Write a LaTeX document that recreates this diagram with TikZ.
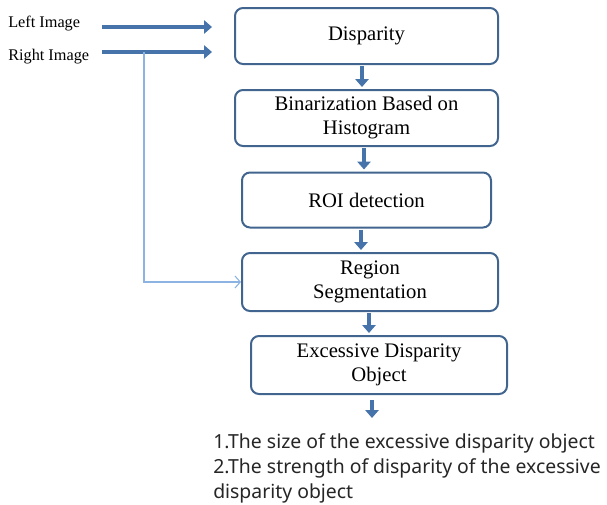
\documentclass[tikz,border=0pt]{standalone}
\usepackage{fontspec}
\setmainfont{Liberation Serif}
\newfontfamily\ksans{Noto Sans}
\usetikzlibrary{arrows.meta}
\definecolor{boxc}{HTML}{41658F}
\definecolor{arrc}{HTML}{4674AA}
\definecolor{thinc}{HTML}{8DB3E2}
\begin{document}
\begin{tikzpicture}[x=0.75pt,y=-0.75pt,
  box/.style={draw=boxc, line width=1.5pt, rounded corners=6pt, align=center,
    font=\fontsize{15.5}{18}\selectfont, inner sep=0pt},
  down/.style={draw=arrc, line width=3pt, -{Triangle[length=6pt,width=10pt]}},
  side/.style={draw=arrc, line width=3.2pt, -{Triangle[length=6pt,width=10pt]}},
  thinarrow/.style={draw=thinc, line width=0.8pt, -{Straight Barb[length=4pt,width=9pt]}},
  lbl/.style={anchor=west, font=\fontsize{12.2}{14}\selectfont, inner sep=0pt}]
\useasboundingbox (0,0) rectangle (607,504);

\node[lbl] (left) at (8,24) {Left Image};
\node[lbl] (right) at (8,57) {Right Image};

\node[box, minimum width=197.25pt, minimum height=42pt] (disp) at (366.5,36) {Disparity};
\node[box, minimum width=197.25pt, minimum height=42pt] (bin) at (366.5,118) {Binarization Based on\\Histogram};
\node[box, minimum width=186.75pt, minimum height=41.25pt] (roi) at (366.5,200) {ROI detection};
\node[box, minimum width=192pt, minimum height=43.5pt] (reg) at (370,282) {Region\\Segmentation};
\node[box, minimum width=192pt, minimum height=43.5pt] (exc) at (379,365) {Excessive Disparity\\Object};

\node[anchor=north west, align=left, inner sep=0pt, font=\ksans\fontsize{14.55}{18.75}\selectfont, text=black!85] (res) at (213,433)
  {1.The size of the excessive disparity object\\2.The strength of disparity of the excessive\\disparity object};

\coordinate (l1) at (102,27);
\coordinate (l2) at (212,27);
\coordinate (r1) at (102,52);
\coordinate (r2) at (212,52);
\coordinate (br) at (144,52);
\coordinate (x1) at (362,0);
\coordinate (x2) at (364,0);
\coordinate (x3) at (361,0);
\coordinate (x4) at (369,0);
\coordinate (e1) at (372,400);
\coordinate (e2) at (372,418);

\draw[side] (l1) -- (l2);
\draw[side] (r1) -- (r2);
\draw[thinarrow] (br) |- (reg.west);

\draw[down] ([yshift=-0.8pt]disp.south -| x1) -- ([yshift=1.5pt]bin.north -| x1);
\draw[down] ([yshift=-0.8pt]bin.south -| x2) -- ([yshift=1.5pt]roi.north -| x2);
\draw[down] ([yshift=-0.8pt]roi.south -| x3) -- ([yshift=1.5pt]reg.north -| x3);
\draw[down] ([yshift=-0.8pt]reg.south -| x4) -- ([yshift=1.5pt]exc.north -| x4);
\draw[down] (e1) -- (e2);
\end{tikzpicture}
\end{document}
